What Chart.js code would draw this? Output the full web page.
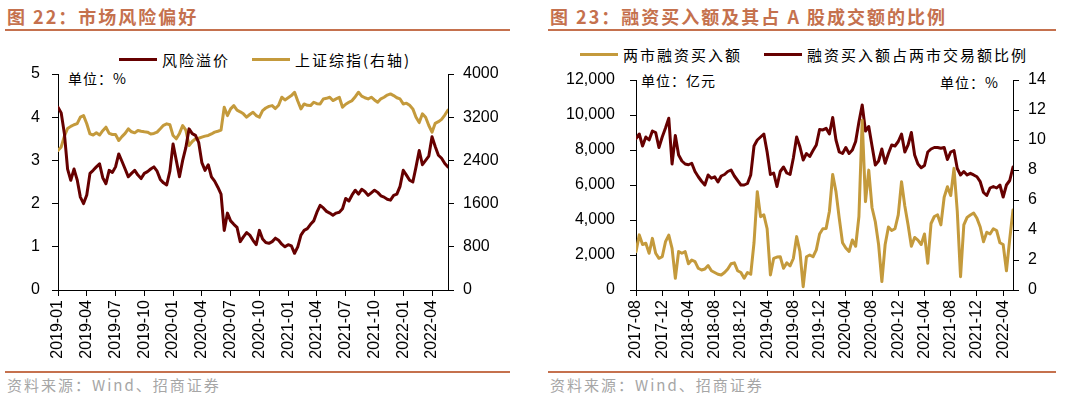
<!DOCTYPE html>
<html>
<head>
<meta charset="utf-8">
<script src="https://cdn.jsdelivr.net/npm/chart.js@4.4.0/dist/chart.umd.min.js"></script>
<style>
body{margin:0;width:1078px;height:399px;background:#fff;position:relative;overflow:hidden;font-family:"Noto Sans CJK SC","Liberation Sans",sans-serif;}
.title{position:absolute;top:7px;font-size:18px;line-height:18px;font-weight:bold;color:#C5714E;letter-spacing:2px;white-space:nowrap;}
.rule{position:absolute;height:2px;background:#C5714E;}
.source{position:absolute;top:377px;font-size:15px;line-height:15px;color:#a6a6a6;letter-spacing:2px;white-space:nowrap;}
.legend{position:absolute;display:flex;align-items:center;font-size:15px;line-height:15px;letter-spacing:2px;color:#000;white-space:nowrap;}
.legend .item{display:flex;align-items:center;margin-right:22px;}
.legend .bar{display:inline-block;width:38px;height:3px;margin-right:5px;}
.unit{position:absolute;font-size:14px;line-height:14px;letter-spacing:1px;color:#000;white-space:nowrap;}
canvas{position:absolute;}
</style>
</head>
<body>

<div class="title" style="left:7px">图 22：市场风险偏好</div>
<div class="rule" style="left:5px;top:29px;width:505px"></div>
<div class="legend" id="legend1" style="left:119px;top:52px"></div>
<div class="unit" style="left:68px;top:71px">单位：%</div>
<canvas id="chart1" width="540" height="330" style="left:0;top:40px"></canvas>
<div class="rule" style="left:5px;top:371px;width:505px"></div>
<div class="source" style="left:7px">资料来源：Wind、招商证券</div>

<div class="title" style="left:550px">图 23：融资买入额及其占 A 股成交额的比例</div>
<div class="rule" style="left:548px;top:29px;width:508px"></div>
<div class="legend" id="legend2" style="left:580px;top:47px"></div>
<div class="unit" style="left:641px;top:73px">单位：亿元</div>
<div class="unit" style="left:940px;top:75px">单位：%</div>
<canvas id="chart2" width="538" height="330" style="left:540px;top:40px"></canvas>
<div class="rule" style="left:548px;top:371px;width:508px"></div>
<div class="source" style="left:550px">资料来源：Wind、招商证券</div>

<script>
const RED = "#660000";
const GOLD = "#C49A3C";

/* ---------- chart 22 data (3 readings per month from 2019-01) ---------- */
const riskStart = "2019-01";
const riskPerMonth = 3;
const riskTickLabels = ["2019-01","2019-04","2019-07","2019-10","2020-01","2020-04","2020-07",
  "2020-10","2021-01","2021-04","2021-07","2021-10","2022-01","2022-04"];
const riskTicks = [0, 1, 2, 3, 4, 5];
const indexTicks = [0, 800, 1600, 2400, 3200, 4000];

const riskPremium = [
  4.23,4.10,3.62,2.80,2.54,2.80,2.55,2.15,2.00,2.20,
  2.70,2.77,2.85,2.92,2.60,2.46,2.77,2.72,2.85,3.15,
  2.98,2.80,2.62,2.70,2.77,2.66,2.58,2.70,2.74,2.80,
  2.85,2.75,2.56,2.48,2.43,2.75,3.38,3.00,2.62,3.00,
  3.30,3.73,3.62,3.58,3.42,2.95,2.77,2.90,2.62,2.52,
  2.38,2.22,1.38,1.78,1.60,1.52,1.45,1.12,1.23,1.33,
  1.27,1.15,1.05,1.38,1.18,1.10,1.08,1.12,1.20,1.15,
  1.06,1.00,1.05,1.02,0.85,1.00,1.27,1.38,1.42,1.52,
  1.60,1.80,1.96,1.90,1.82,1.78,1.73,1.78,1.80,1.88,
  2.12,2.06,2.20,2.31,2.22,2.33,2.28,2.19,2.25,2.31,
  2.26,2.18,2.15,2.10,2.08,2.19,2.22,2.40,2.77,2.66,
  2.54,2.50,2.85,3.23,2.90,3.00,3.10,3.55,3.32,3.12,
  3.05,2.93,2.85
];

const shIndex = [
  2585,2650,2850,2990,3030,3060,3080,3200,3230,3080,
  2890,2870,2910,2870,2950,3015,2900,2880,2880,2770,
  2840,2900,2985,2930,2910,2954,2940,2930,2923,2890,
  2900,2923,2985,3050,3077,3060,2860,2800,2900,3046,
  2960,2677,2750,2800,2810,2830,2850,2862,2890,2923,
  2940,2960,3385,3230,3354,3415,3330,3300,3262,3200,
  3250,3292,3230,3200,3323,3370,3400,3415,3360,3420,
  3570,3520,3560,3600,3662,3500,3354,3446,3420,3415,
  3477,3450,3446,3538,3550,3570,3508,3540,3570,3385,
  3440,3477,3508,3580,3662,3590,3560,3538,3570,3520,
  3477,3540,3570,3610,3631,3600,3560,3538,3446,3460,
  3420,3354,3200,3100,3262,3200,3046,2923,3087,3117,
  3160,3240,3333
];

/* ---------- chart 23 data (2 readings per month from 2017-08) ---------- */
const marginStart = "2017-08";
const marginPerMonth = 2;
const marginTickLabels = ["2017-08","2017-12","2018-04","2018-08","2018-12","2019-04","2019-08",
  "2019-12","2020-04","2020-08","2020-12","2021-04","2021-08","2021-12","2022-04"];
const buyTicks = [0, 2000, 4000, 6000, 8000, 10000, 12000];
const ratioTicks = [0, 2, 4, 6, 8, 10, 12, 14];

const marginBuy = [
  2190,3150,2600,2670,2100,2950,2100,1810,1900,2760,
  3140,2380,670,2200,2100,2190,1500,1715,1620,1240,
  1140,1200,1400,1100,1000,900,860,1000,1200,1500,
  1550,1100,1000,670,1000,900,2700,5620,4190,4290,
  3500,860,1810,1880,1900,1240,1550,1380,1800,3050,
  2200,190,1900,2000,1900,2290,3200,3500,3520,4500,
  6600,5620,4100,2700,2400,2200,2860,2500,4200,9700,
  5050,6850,4700,3900,2600,480,2600,3600,3400,3500,
  4290,6190,4800,3720,2500,3000,2850,2600,3200,1530,
  3800,4200,4290,3720,5300,5900,5400,6950,4500,760,
  3720,4150,4290,4400,4100,3600,2760,3300,3200,3500,
  3400,2700,2600,1100,2900,4570
];

const marginRatio = [
  10.1,10.4,9.6,10.2,10.0,10.6,10.5,9.5,10.2,10.8,
  11.45,8.4,10.3,9.0,8.6,8.4,8.35,8.45,7.9,7.55,
  7.25,7.0,7.67,7.45,7.55,7.2,7.6,7.7,7.9,8.0,
  7.6,7.3,7.0,7.0,7.1,7.67,9.6,10.0,10.2,10.4,
  9.2,7.7,7.8,6.9,7.9,8.2,7.8,7.7,8.8,10.2,
  9.55,8.67,9.1,8.9,9.3,9.67,10.7,10.67,10.78,10.4,
  11.5,10.0,9.2,9.1,9.5,9.1,9.33,9.9,11.2,12.33,
  10.6,10.9,9.6,8.33,8.6,9.4,8.45,9.1,9.67,9.6,
  9.9,10.4,9.2,9.67,10.5,9.0,8.4,8.15,8.3,9.2,
  9.4,9.5,9.5,9.45,9.5,8.7,9.2,9.3,8.1,7.67,
  7.9,7.67,7.78,7.67,7.55,7.22,6.5,6.3,6.8,6.9,
  6.8,7.0,6.2,7.0,7.3,8.2
];

/* ---------- helpers ---------- */

function monthsFrom(start, label) {
  const [y0, m0] = start.split("-").map(Number);
  const [y, m] = label.split("-").map(Number);
  return (y - y0) * 12 + (m - m0);
}

function toPoints(values, perMonth) {
  return values.map((v, i) => ({ x: i / perMonth, y: v }));
}

const tickFont = { family: "'Liberation Sans', Arial, sans-serif", size: 16 };

function axisStyle() {
  return {
    border: { display: true, color: "#000", width: 1 },
    grid: { drawOnChartArea: false, drawTicks: true, tickLength: 6, color: "#000" }
  };
}

function makeChart(id, cfg) {
  return new Chart(document.getElementById(id), {
    type: "line",
    data: {
      datasets: cfg.series.map(s => ({
        label: s.label,
        data: s.data,
        borderColor: s.color,
        backgroundColor: s.color,
        yAxisID: s.axis
      }))
    },
    options: {
      responsive: false,
      animation: false,
      events: [],
      layout: { padding: { top: cfg.top, left: 0, right: 0, bottom: 0 } },
      elements: {
        point: { radius: 0 },
        line: { borderWidth: 3, tension: 0, borderJoinStyle: "round", borderCapStyle: "round" }
      },
      plugins: { legend: { display: false }, tooltip: { enabled: false } },
      scales: {
        x: Object.assign(axisStyle(), {
          type: "linear",
          min: 0,
          max: cfg.xMax,
          afterBuildTicks: s => { s.ticks = cfg.xTicks.map(v => ({ value: v })); },
          afterFit: s => { s.height = cfg.xHeight; },
          ticks: {
            minRotation: 90, maxRotation: 90, padding: 4, color: "#000", font: tickFont,
            callback: (v, i) => cfg.xLabels[i]
          }
        }),
        y: Object.assign(axisStyle(), {
          position: "left",
          min: cfg.yTicks[0],
          max: cfg.yTicks[cfg.yTicks.length - 1],
          afterBuildTicks: s => { s.ticks = cfg.yTicks.map(v => ({ value: v })); },
          afterFit: s => { s.width = cfg.leftWidth; },
          ticks: { padding: cfg.leftPad, color: "#000", font: tickFont, callback: cfg.yFormat }
        }),
        y1: Object.assign(axisStyle(), {
          position: "right",
          min: cfg.y1Ticks[0],
          max: cfg.y1Ticks[cfg.y1Ticks.length - 1],
          afterBuildTicks: s => { s.ticks = cfg.y1Ticks.map(v => ({ value: v })); },
          afterFit: s => { s.width = cfg.rightWidth; },
          ticks: { padding: 9, color: "#000", font: tickFont, callback: v => String(v) }
        })
      }
    }
  });
}

function buildLegend(chart, el) {
  chart.data.datasets.forEach(ds => {
    const item = document.createElement("div");
    item.className = "item";
    const bar = document.createElement("span");
    bar.className = "bar";
    bar.style.background = ds.borderColor;
    const txt = document.createElement("span");
    txt.textContent = ds.label;
    item.appendChild(bar);
    item.appendChild(txt);
    el.appendChild(item);
  });
}

/* ---------- chart 22 ---------- */

const chart1 = makeChart("chart1", {
  series: [
    { label: "风险溢价", data: toPoints(riskPremium, riskPerMonth), color: RED, axis: "y" },
    { label: "上证综指(右轴)", data: toPoints(shIndex, riskPerMonth), color: GOLD, axis: "y1" }
  ],
  top: 34,
  xMax: (riskPremium.length - 1) / riskPerMonth,
  xTicks: riskTickLabels.map(l => monthsFrom(riskStart, l)),
  xLabels: riskTickLabels,
  xHeight: 80,
  yTicks: riskTicks,
  y1Ticks: indexTicks,
  leftWidth: 58,
  rightWidth: 92,
  leftPad: 12,
  yFormat: v => String(v)
});
buildLegend(chart1, document.getElementById("legend1"));

/* ---------- chart 23 ---------- */

const chart2 = makeChart("chart2", {
  series: [
    { label: "两市融资买入额", data: toPoints(marginBuy, marginPerMonth), color: GOLD, axis: "y" },
    { label: "融资买入额占两市交易额比例", data: toPoints(marginRatio, marginPerMonth), color: RED, axis: "y1" }
  ],
  top: 40,
  xMax: (marginBuy.length - 1) / marginPerMonth,
  xTicks: marginTickLabels.map(l => monthsFrom(marginStart, l)),
  xLabels: marginTickLabels,
  xHeight: 80,
  yTicks: buyTicks,
  y1Ticks: ratioTicks,
  leftWidth: 96,
  rightWidth: 65,
  leftPad: 15,
  yFormat: v => v.toLocaleString("en-US")
});
buildLegend(chart2, document.getElementById("legend2"));
</script>
</body>
</html>
